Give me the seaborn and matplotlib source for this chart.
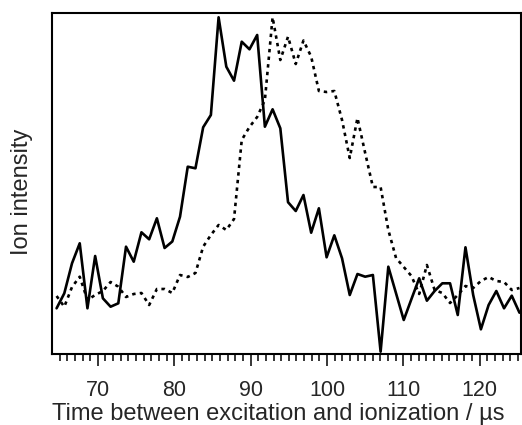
import numpy as np
import pandas as pd
import matplotlib
matplotlib.use("Agg")
import matplotlib.pyplot as plt
import seaborn as sns

# time axis (µs), 61 samples
time_us = np.linspace(64.6, 125.2, 61)

# solid trace (arbitrary intensity units)
solid = [45.7, 60.7, 90.7, 110.7, 45.7, 98.0, 55.7, 47.3, 50.7, 107.3,
         92.3, 121.7, 114.7, 135.7, 106.0, 112.5, 137.3, 187.3, 185.7, 226.7,
         239.0, 336.7, 287.3, 273.3, 312.3, 304.7, 319.0, 227.3, 244.7, 225.7,
         151.8, 143.0, 159.0, 121.3, 145.7, 96.7, 118.7, 95.7, 59.0, 80.0,
         77.3, 79.0, 2.3, 87.3, 60.7, 34.0, 55.0, 75.7, 53.3, 63.0,
         70.7, 70.7, 39.0, 106.7, 59.0, 24.7, 49.0, 63.0, 45.7, 58.3,
         41.3]

# dotted trace (arbitrary intensity units)
dotted = [58.0, 47.3, 67.0, 77.3, 54.0, 59.0, 63.0, 72.0, 67.3, 57.0,
          60.0, 61.0, 49.0, 65.0, 65.0, 61.0, 79.0, 77.0, 81.0, 107.3,
          119.0, 129.0, 124.0, 135.0, 214.0, 227.0, 237.0, 254.0, 336.7, 294.0,
          317.3, 290.0, 313.5, 297.3, 263.0, 262.0, 263.0, 234.0, 196.0, 236.0,
          201.0, 167.0, 167.0, 124.0, 96.0, 87.0, 78.0, 60.0, 89.0, 64.0,
          61.0, 51.0, 59.0, 68.0, 66.0, 73.0, 77.0, 73.0, 72.0, 64.0,
          66.0]

df = pd.DataFrame({"time": time_us, "solid": solid, "dotted": dotted})

sns.set_style("white")
plt.rcParams["font.family"] = ["Liberation Sans", "DejaVu Sans"]

fig = plt.figure(figsize=(5.22, 4.25), dpi=100)
ax = fig.add_axes([52 / 522, 1 - 354 / 425, (521 - 52) / 522, (354 - 13) / 425])

sns.lineplot(data=df, x="time", y="solid", ax=ax, color="black", lw=1.9)
sns.lineplot(data=df, x="time", y="dotted", ax=ax, color="black", lw=1.9,
             linestyle=(0, (1.3, 1.6)))

ax.set_xlim(64.0, 125.4)
ax.set_ylim(0, 341)
ax.set_xticks([70, 80, 90, 100, 110, 120])
ax.set_xticks(np.arange(65, 126, 1), minor=True)
ax.set_yticks([])
ax.tick_params(axis="x", which="major", direction="out", length=8.5, width=1.3,
               labelsize=15.5, pad=10, bottom=True)
ax.tick_params(axis="x", which="minor", direction="out", length=4.8, width=1.3,
               bottom=True)
for s in ax.spines.values():
    s.set_linewidth(1.5)
    s.set_color("black")

ax.set_xlabel("Time between excitation and ionization / \u00b5s", fontsize=17)
ax.xaxis.set_label_coords(0.482, -0.145)
ax.set_ylabel("Ion intensity", fontsize=17)
ax.yaxis.set_label_coords(-0.041, 0.4765)

fig.savefig("out.png", dpi=100)
